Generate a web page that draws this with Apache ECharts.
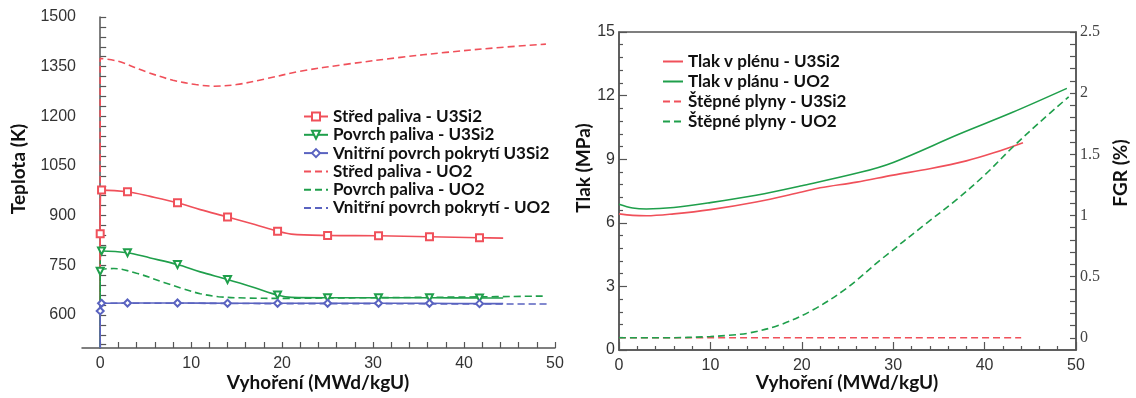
<!DOCTYPE html>
<html>
<head>
<meta charset="utf-8">
<script src="https://cdn.jsdelivr.net/npm/echarts@6/dist/echarts.min.js"></script>
<style>
html, body { margin: 0; padding: 0; background: #fff; }
#chart { width: 1136px; height: 398px; }
</style>
</head>
<body>
<div id="chart"></div>
<script>
// ---- levy graf: teploty [vyhoreni, K] ----
var stredU3Si2 = [[0,500],[0,845],[0.15,977],[3,972],[5.5,958],[8.5,939],[11,918],[14,896],[17,873],[19.5,853],[21,844],[25,840],[30.6,839],[36.2,836],[41.7,833],[44.3,832]];
var stredU3Si2Mark = [1,2,3,5,7,9,11,12,13,14];
var povrchU3Si2 = [[0,500],[0,732],[0.15,793],[3,788],[5.5,772],[8.5,752],[11,730],[14,707],[17,682],[19.5,660],[21,653],[25,652],[30.6,652],[36.2,652],[41.7,651],[44.3,651]];
var povrchU3Si2Mark = [1,2,3,5,7,9,11,12,13,14];
var pokrytiU3Si2 = [[0,500],[0,612],[0.15,635],[3,636],[8.5,636],[14,635],[19.5,635],[25,635],[30.6,635],[36.2,635],[41.7,634],[44.3,634]];
var pokrytiU3Si2Mark = [1,2,3,4,5,6,7,8,9,10];
var stredUO2 = [[0,500],[0,1375],[2,1366],[5,1335],[8,1309],[10.5,1296],[12.5,1291],[15,1296],[18,1312],[22,1336],[27,1357],[33,1378],[38,1393],[44,1408],[49,1418]];
var povrchUO2 = [[0,500],[0,732],[1.5,740],[4,726],[7,698],[9,680],[11,664],[13,655],[16,651],[20,650],[25,651],[30,652],[40,654],[49,657]];
var pokrytiUO2 = [[0,500],[0,635],[10,635],[20,634],[30,634],[40,633],[49.3,633]];

// ---- pravy graf: tlak [MPa] a FGR [%] ----
var tlakU3Si2 = [[0,6.42],[1.5,6.35],[3,6.33],[6,6.42],[10,6.62],[15,6.98],[20,7.45],[22,7.65],[26,7.92],[30,8.25],[34,8.55],[38,8.92],[41,9.3],[44.2,9.78]];
var tlakUO2 = [[0,6.88],[1.5,6.7],[3,6.65],[6,6.72],[10,6.95],[15,7.3],[20,7.75],[26.4,8.38],[30,8.85],[37.3,10.2],[43,11.2],[49,12.34]];
var fgrU3Si2 = [[0,0],[10,0],[20,0],[30,0],[44,0]];
var fgrUO2 = [[0,0],[5,0],[10,0.01],[12,0.02],[14.3,0.04],[17.6,0.105],[21.2,0.227],[24.9,0.405],[28.6,0.636],[33.7,0.94],[36.9,1.127],[40,1.33],[43.1,1.56],[46,1.76],[49.2,1.97]];

// popisky os
var burnTicks = [0, 10, 20, 30, 40, 50];
var tempTicks = [600, 750, 900, 1050, 1200, 1350, 1500];
var fgrTicks = [0, 0.5, 1, 1.5, 2, 2.5];

var RED = '#f0505a', GREEN = '#1f9f4b', BLUE = '#5a63c0';
var AX = '#555';
var TITLE_FONT = 'Lato';

// vedlejsi ticky mezi hlavnimi
function between(major, n) {
    var out = [];
    for (var i = 0; i < major.length - 1; i++) {
        var step = (major[i + 1] - major[i]) / n;
        for (var k = 1; k < n; k++) out.push(+(major[i] + k * step).toFixed(4));
    }
    return out;
}

function marked(pts, idx) {
    return pts.map(function (p, i) {
        return idx.indexOf(i) >= 0 ? p : { value: p, symbol: 'none' };
    });
}

function plain(v) { return String(v); }

// nazvy os jako text v grafice
function axisTitle(text, x, y, vertical) {
    return {
        type: 'text', x: x, y: y, rotation: vertical ? Math.PI / 2 : 0, silent: true,
        style: {
            text: text, fill: '#111', fontFamily: TITLE_FONT, fontWeight: 'bold', fontSize: 19,
            align: 'center', verticalAlign: 'middle', textAlign: 'center', textVerticalAlign: 'middle'
        }
    };
}
function labels(vals, margin) {
    var l = { fontFamily: 'Liberation Sans', fontSize: 16, color: '#333', margin: margin, formatter: plain };
    if (vals) l.customValues = vals;
    return l;
}
function tick(len, vals) {
    var t = { show: true, inside: true, length: len, lineStyle: { color: AX, width: 1.2 } };
    if (vals) t.customValues = vals;
    return t;
}
function minor() {
    return { show: true, splitNumber: 5, length: 4, lineStyle: { color: AX, width: 1.2 } };
}
function line() {
    return { show: true, lineStyle: { color: AX, width: 1.5 } };
}
function off() { return { show: false }; }

// legenda: jen cara bez symbolu
function legendItem(name) {
    return { name: name, itemStyle: { color: 'rgba(0,0,0,0)', borderWidth: 0 } };
}

function lineSeries(name, data, color, dashed, xi, yi, extra) {
    var s = {
        name: name, type: 'line', data: data,
        xAxisIndex: xi, yAxisIndex: yi,
        smooth: 0.35,
        symbol: 'none', showSymbol: false,
        lineStyle: { color: color, width: 1.6, type: dashed ? [7, 4] : 'solid' },
        itemStyle: { color: color },
        animation: false
    };
    for (var k in extra) s[k] = extra[k];
    return s;
}

function markerOpts(sym, rotate) {
    return { symbol: sym, showSymbol: true, showAllSymbol: true, symbolSize: 7, symbolRotate: rotate || 0 };
}

var chart = echarts.init(document.getElementById('chart'));
chart.setOption({
    animation: false,
    grid: [
        { left: 82, top: 17, width: 473, height: 331 },
        // pravy graf je zavreny do ramecku (horni okraj)
        { left: 619, top: 32, width: 457, height: 318, show: true, borderColor: AX, borderWidth: 1.5, backgroundColor: 'transparent' }
    ],
    graphic: {
        elements: [
            axisTitle('Vyhoření (MWd/kgU)', 318, 383),
            axisTitle('Vyhoření (MWd/kgU)', 847, 383),
            axisTitle('Teplota (K)', 19, 169, true),
            axisTitle('Tlak (MPa)', 584, 168, true),
            axisTitle('FGR (%)', 1121, 173, true)
        ]
    },
    legend: [
        {
            data: ['Střed paliva - U3Si2', 'Povrch paliva - U3Si2', 'Vnitřní povrch pokrytí U3Si2',
                legendItem('Střed paliva - UO2'), legendItem('Povrch paliva - UO2'), legendItem('Vnitřní povrch pokrytí - UO2')],
            orient: 'vertical', left: 298, top: 103, itemWidth: 24, itemHeight: 10, itemGap: 1.3,
            textStyle: { fontFamily: TITLE_FONT, fontWeight: 'bold', fontSize: 17, color: '#111', lineHeight: 16 },
            selectedMode: false
        },
        {
            data: [legendItem('Tlak v plénu - U3Si2'), legendItem('Tlak v plánu - UO2'),
                legendItem('Štěpné plyny - U3Si2'), legendItem('Štěpné plyny - UO2')],
            orient: 'vertical', left: 657, top: 48, itemWidth: 20, itemHeight: 10, itemGap: 3,
            textStyle: { fontFamily: TITLE_FONT, fontWeight: 'bold', fontSize: 17, color: '#111', lineHeight: 17 },
            selectedMode: false
        }
    ],
    xAxis: [
        {
            gridIndex: 0, type: 'value', position: 'bottom', min: -2, max: 50,
            axisLine: line(), axisTick: tick(6, burnTicks.concat(between(burnTicks, 5))), axisLabel: labels(burnTicks, 8),
            splitLine: off()
        },
        {
            gridIndex: 1, type: 'value', position: 'bottom', min: 0, max: 50, interval: 10,
            axisLine: line(), axisTick: tick(8), minorTick: minor(), axisLabel: labels(null, 8),
            splitLine: off()
        }
    ],
    yAxis: [
        {
            gridIndex: 0, type: 'value', position: 'left', min: 500, max: 1500,
            axisLine: line(), axisTick: tick(6, [510, 540, 570].concat(tempTicks, between(tempTicks, 5))),
            axisLabel: labels(tempTicks, 6),
            splitLine: off()
        },
        {
            gridIndex: 1, type: 'value', position: 'left', min: 0, max: 15, interval: 3,
            axisLine: line(), axisTick: tick(8), minorTick: minor(), axisLabel: labels(null, 4),
            splitLine: off()
        },
        {
            gridIndex: 1, type: 'value', position: 'right', min: -0.1, max: 2.5,
            axisLine: line(), axisTick: tick(6, fgrTicks.concat(between(fgrTicks, 5))),
            axisLabel: { customValues: fgrTicks, margin: 4, fontFamily: 'Liberation Serif', fontSize: 16, color: '#444', formatter: plain },
            splitLine: off()
        }
    ],
    series: [
        lineSeries('Střed paliva - U3Si2', marked(stredU3Si2, stredU3Si2Mark), RED, false, 0, 0, markerOpts('emptyRect')),
        lineSeries('Povrch paliva - U3Si2', marked(povrchU3Si2, povrchU3Si2Mark), GREEN, false, 0, 0, markerOpts('emptyTriangle', 180)),
        lineSeries('Vnitřní povrch pokrytí U3Si2', marked(pokrytiU3Si2, pokrytiU3Si2Mark), BLUE, false, 0, 0, markerOpts('emptyDiamond')),
        lineSeries('Střed paliva - UO2', stredUO2, RED, true, 0, 0),
        lineSeries('Povrch paliva - UO2', povrchUO2, GREEN, true, 0, 0),
        lineSeries('Vnitřní povrch pokrytí - UO2', pokrytiUO2, BLUE, true, 0, 0),
        lineSeries('Tlak v plénu - U3Si2', tlakU3Si2, RED, false, 1, 1),
        lineSeries('Tlak v plánu - UO2', tlakUO2, GREEN, false, 1, 1),
        lineSeries('Štěpné plyny - U3Si2', fgrU3Si2, RED, true, 1, 2),
        lineSeries('Štěpné plyny - UO2', fgrUO2, GREEN, true, 1, 2)
    ]
});
</script>
</body>
</html>
